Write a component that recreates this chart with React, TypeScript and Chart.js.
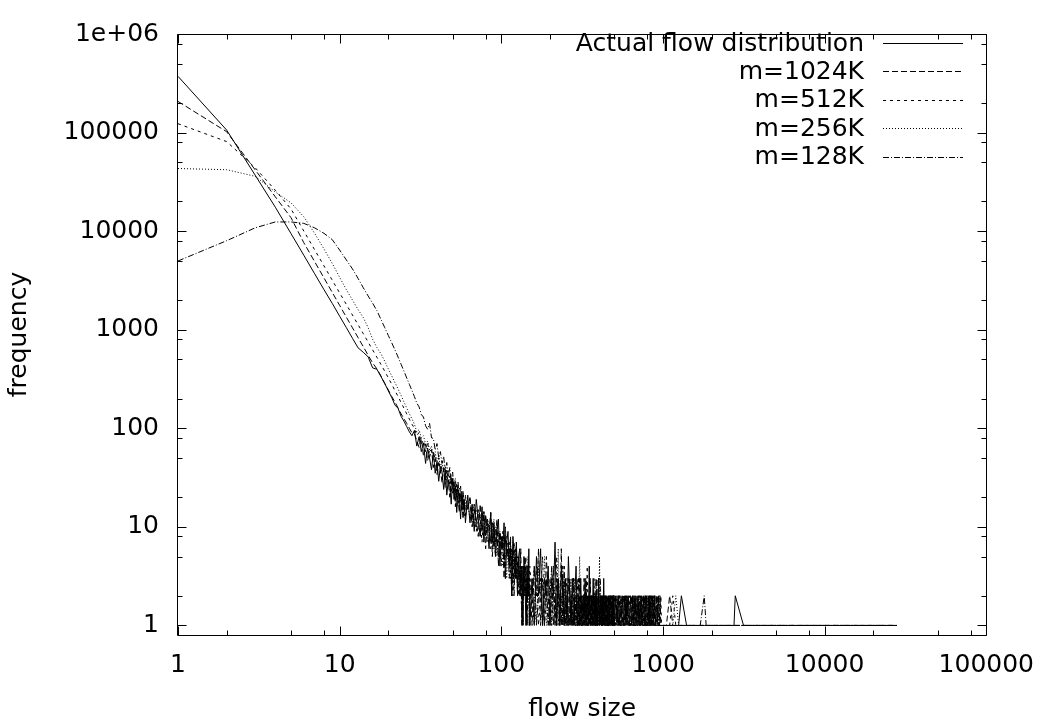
import React, { useEffect, useRef } from 'react';
import { Chart, registerables } from 'chart.js';

Chart.register(...registerables);

const FONT = '"DejaVu Sans", "Liberation Sans", Arial, sans-serif';

// ---------------- data ----------------
const seriesLabels = ['Actual flow distribution', 'm=1024K', 'm=512K', 'm=256K', 'm=128K'];

const headSizes = [1, 2, 3, 4, 5, 6, 7, 8, 9, 10, 11, 12, 13, 14, 15, 16, 17, 18, 19, 20, 21, 22, 23, 24, 25, 26, 27, 28];

const tailSizes = [
  29, 30, 31, 32, 33, 34, 35, 36, 37, 38, 39, 40, 41, 42, 43, 44, 45, 46, 47, 48, 49, 50, 51, 52, 53, 54, 55, 56, 57, 58, 59, 60,
  62, 64, 66, 68, 70, 72, 74, 76, 78, 80, 82, 84, 86, 88, 90, 92, 94, 96, 98, 100, 102, 104, 106, 108, 110, 112, 114, 116, 118, 120,
  122, 124, 126, 128, 130, 132, 134, 136, 138, 140, 142, 144, 146, 148, 150,
  155, 160, 165, 170, 175, 180, 185, 190, 195, 200, 205, 210, 215, 220, 225, 230, 235, 240, 245, 250,
  255, 260, 265, 270, 275, 280, 285, 290, 295, 300, 305, 310, 315, 320, 325, 330, 335, 340, 345, 350,
  355, 360, 365, 370, 375, 380, 385, 390, 395, 400, 405, 410, 415, 420, 425, 430, 435, 440, 445, 450,
  455, 460, 465, 470, 475, 480, 485, 490, 495, 500,
  510, 520, 530, 540, 550, 560, 570, 580, 590, 600, 610, 620, 630, 640, 650, 660, 670, 680, 690, 700,
  710, 720, 730, 740, 750, 760, 770, 780, 790, 800, 810, 820, 830, 840, 850, 860, 870, 880, 890, 900,
  910, 920, 930, 940, 950, 960, 970, 980, 990, 1000,
  1050, 1100, 1150, 1200, 1250, 1300, 1400, 1500, 1600, 1700, 1800, 1850, 1900, 2000, 2200, 2500, 2750, 2800, 3150,
  4000, 6000, 10000, 15000, 20000, 27900,
];

const actualHead = [372000, 106000, 37000, 17500, 9450, 5700, 3700, 2550, 1850, 1370, 1050, 820, 655, 590, 531, 410, 397, 335, 285, 240, 205, 172, 159, 132, 118, 104, 92, 84];
const actualTail = [
  95, 66, 82, 58, 71, 44, 63, 50, 38, 57, 35, 46, 29, 41, 36, 24, 38, 21, 30, 27, 17, 31, 19, 26, 14, 24, 20, 12, 23, 15, 19, 11,
  21, 11, 17, 9, 19, 12, 8, 16, 7, 13, 10, 6, 14, 7, 11, 5, 9, 12, 4, 8, 6, 11, 3, 7, 9, 4, 6, 2, 8, 5, 3, 7, 2, 5, 6, 2, 4, 1, 5, 3, 1, 4, 2, 6, 1,
  3, 1, 5, 2, 6, 1, 3, 2, 4, 1, 3, 2, 7, 1, 3, 1, 4, 2, 1, 3, 1, 5, 2, 1, 3, 1, 2, 4, 1, 2, 1, 3, 1, 2, 1, 3, 1, 2, 1, 4,
  1, 2, 1, 3, 1, 2, 1, 2, 1, 3, 1, 2, 1, 2, 1, 3, 1, 2, 1, 2, 1, 2, 1, 1, 2, 1, 2, 1, 2, 1,
  2, 1, 2, 1, 1, 2, 1, 2, 1, 2, 1, 1, 2, 1, 2, 1, 1, 2, 1, 2, 1, 1, 2, 1, 1, 2, 1, 1, 2, 1, 1, 2, 1, 1, 1, 2, 1, 1, 2, 1, 1, 1, 1, 2, 1, 1, 1, 1, 1, 1,
  1, 1, 1, 1, 1, 2, 1, 1, 1, 1, 1, 1, 1, 1, 1, 1, 1, 2, 1, 1, 1, 1, 1, 1, 1,
];

const m1024Head = [207000, 102000, 41900, 22300, 13700, 7640, 4910, 3350, 2390, 1765, 1340, 1046, 831, 673, 552, 460, 400, 340, 285, 245, 210, 185, 160, 140, 125, 112, 100, 90];
const m1024Tail = [
  88, 75, 64, 80, 52, 69, 47, 58, 61, 40, 49, 34, 45, 38, 28, 40, 25, 33, 29, 20, 31, 22, 26, 16, 24, 19, 14, 22, 17, 12, 18, 13,
  16, 19, 10, 15, 12, 8, 17, 9, 13, 6, 11, 9, 14, 5, 10, 7, 12, 4, 9, 6, 8, 3, 10, 5, 6, 4, 8, 2, 6, 5, 3, 7, 2, 4, 3, 6, 1, 4, 2, 5, 3, 1, 4, 2, 3,
  1, 4, 2, 6, 1, 3, 1, 5, 2, 1, 2, 4, 1, 3, 2, 1, 6, 1, 4, 1, 2, 1, 3, 1, 2, 3, 1, 2, 1, 3, 1, 2, 1, 1, 3, 1, 2, 1, 2, 1,
  3, 1, 2, 1, 2, 1, 1, 3, 1, 2, 1, 1, 2, 1, 2, 1, 2, 1, 1, 2, 1, 1, 2, 1, 1, 2, 1, 1, 1, 2,
  1, 2, 1, 2, 1, 1, 2, 1, 2, 1, 2, 1, 1, 2, 1, 1, 2, 1, 1, 1, 2, 1, 1, 2, 1, 1, 2, 1, 1, 1, 2, 1, 1, 2, 1, 1, 1, 2, 1, 1, 2, 1, 1, 1, 1, 2, 1, 1, 1, 1,
  1, 2, 1, 1, 1, 1, 1, 1, 1, 1, 1, 1, 1, 1, 1, 1, 1, 1, 1, 1, 1, 1, 1, 1, 1,
];

const m512Head = [123000, 81000, 44000, 26000, 16800, 10030, 6480, 4440, 3180, 2360, 1805, 1410, 1124, 912, 750, 624, 525, 445, 380, 325, 280, 240, 210, 182, 160, 140, 124, 110];
const m512Tail = [
  100, 84, 91, 70, 76, 58, 73, 51, 60, 47, 55, 39, 50, 35, 42, 37, 29, 38, 26, 33, 22, 30, 25, 18, 27, 16, 23, 20, 14, 21, 13, 17,
  15, 20, 11, 16, 9, 14, 12, 7, 15, 8, 12, 10, 6, 11, 9, 5, 10, 7, 8, 4, 9, 6, 3, 8, 5, 7, 3, 6, 2, 7, 4, 3, 5, 2, 4, 3, 1, 4, 3, 2, 5, 1, 3, 2, 4,
  2, 1, 4, 1, 2, 5, 1, 2, 1, 3, 1, 2, 1, 5, 1, 2, 1, 3, 1, 2, 3, 1, 1, 2, 1, 2, 1, 1, 3, 1, 2, 1, 2, 1, 1, 2, 1, 4, 1, 2,
  1, 1, 2, 1, 3, 1, 2, 1, 1, 2, 1, 3, 1, 1, 2, 1, 1, 2, 1, 1, 2, 1, 1, 2, 1, 1, 1, 2, 1, 1,
  2, 1, 1, 2, 1, 2, 1, 1, 2, 1, 1, 2, 1, 1, 1, 2, 1, 1, 2, 1, 1, 2, 1, 1, 2, 1, 1, 2, 1, 1, 1, 1, 2, 1, 1, 1, 2, 1, 1, 1, 1, 2, 1, 1, 1, 1, 2, 1, 1, 1,
  1, 1, 2, 1, 1, 1, 1, 1, 1, 1, 1, 1, 1, 1, 1, 1, 1, 1, 1, 1, 1, 1, 1, 1, 1,
];

const m256Head = [43200, 42000, 36000, 25000, 19400, 14000, 9500, 6600, 4700, 3400, 2550, 2000, 1600, 1330, 1050, 800, 660, 570, 480, 400, 340, 290, 250, 215, 185, 160, 140, 125];
const m256Tail = [
  110, 92, 97, 80, 84, 69, 74, 60, 66, 52, 58, 45, 53, 40, 47, 35, 42, 31, 38, 27, 34, 24, 30, 21, 27, 19, 25, 22, 16, 21, 14, 18,
  17, 12, 16, 10, 15, 13, 8, 14, 9, 12, 7, 11, 9, 6, 12, 7, 5, 9, 6, 8, 4, 8, 5, 3, 7, 4, 6, 2, 7, 3, 4, 6, 2, 5, 2, 4, 3, 1, 4, 2, 3, 2, 5, 1, 2,
  3, 2, 1, 4, 2, 1, 5, 1, 3, 2, 1, 3, 2, 1, 6, 1, 2, 1, 3, 1, 2, 1, 2, 3, 1, 1, 3, 1, 2, 1, 5, 1, 1, 1, 2, 1, 1, 2, 1, 2,
  1, 2, 1, 2, 1, 2, 1, 1, 2, 1, 5, 1, 2, 1, 1, 2, 1, 1, 2, 1, 1, 1, 2, 1, 1, 1, 2, 1, 2, 1,
  1, 2, 1, 1, 2, 1, 1, 2, 1, 2, 1, 1, 2, 1, 1, 2, 1, 1, 1, 2, 1, 1, 2, 1, 1, 1, 2, 1, 1, 2, 1, 1, 1, 2, 1, 1, 2, 1, 1, 1, 2, 1, 1, 1, 2, 1, 1, 1, 1, 1,
  1, 1, 1, 2, 1, 1, 1, 1, 1, 1, 1, 1, 1, 1, 1, 1, 1, 1, 1, 1, 1, 1, 1, 1, 1,
];

const m128Head = [4980, 8000, 10800, 12400, 12400, 12000, 10800, 9500, 8200, 6430, 5105, 4140, 3316, 2670, 2200, 1857, 1560, 1274, 1051, 875, 736, 623, 527, 445, 379, 324, 279, 242];
const m128Tail = [
  210, 180, 165, 138, 130, 106, 98, 112, 80, 79, 60, 70, 50, 58, 44, 52, 36, 45, 32, 40, 27, 36, 24, 31, 20, 29, 18, 26, 15, 23, 14, 21,
  15, 20, 12, 17, 10, 15, 13, 9, 14, 8, 12, 10, 7, 11, 6, 10, 8, 5, 9, 6, 7, 4, 8, 5, 6, 3, 7, 4, 5, 2, 6, 3, 4, 5, 2, 4, 3, 1, 4, 2, 3, 1, 3, 2, 1,
  2, 4, 1, 2, 3, 1, 2, 3, 1, 2, 4, 1, 2, 1, 3, 2, 1, 4, 1, 2, 1, 3, 1, 2, 1, 3, 1, 2, 1, 1, 3, 1, 2, 1, 2, 1, 3, 1, 1, 2,
  1, 2, 1, 1, 2, 1, 3, 1, 1, 3, 1, 1, 2, 1, 1, 2, 1, 1, 2, 1, 1, 1, 2, 1, 2, 1, 1, 1, 2, 1,
  1, 1, 2, 1, 2, 1, 1, 1, 2, 1, 2, 1, 1, 1, 2, 1, 2, 1, 1, 1, 2, 1, 1, 2, 1, 1, 1, 2, 1, 1, 2, 1, 1, 1, 2, 1, 1, 1, 2, 1, 1, 1, 2, 1, 1, 1, 1, 1, 1, 1,
  1, 1, 1, 1, 1, 1, 1, 1, 1, 1, 2, 1, 1, 1, 1, 1, 1, 1, 1, 1, 1, 1, 1, 1, 1,
];

const xTickValues = [1, 10, 100, 1000, 10000, 100000];
const xTickLabels = ['1', '10', '100', '1000', '10000', '100000'];
const yTickValues = [1, 10, 100, 1000, 10000, 100000, 1000000];
const yTickLabels = ['1', '10', '100', '1000', '10000', '100000', '1e+06'];
const minorMultipliers = [2, 5, 8];

// ---------------- styling ----------------
const dashes: number[][] = [[], [6, 3], [3, 4], [1, 2], [6, 2, 1, 2]];
const MAJOR_LEN = 9;
const MINOR_LEN = 5;
const LEGEND_TEXT_RIGHT = 864;
const LEGEND_SAMPLE_X0 = 883;
const LEGEND_SAMPLE_X1 = 963;
const LEGEND_Y0 = 44;
const LEGEND_DY = 28.4;

function toPoints(head: number[], tail: number[]) {
  const sizes = headSizes.concat(tailSizes);
  const vals = head.concat(tail);
  const n = Math.min(sizes.length, vals.length);
  const pts: { x: number; y: number }[] = [];
  for (let i = 0; i < n; i++) pts.push({ x: sizes[i], y: vals[i] });
  return pts;
}

const backgroundPlugin = {
  id: 'whiteBg',
  beforeDraw(chart: any) {
    const { ctx, width, height } = chart;
    ctx.save();
    ctx.fillStyle = '#ffffff';
    ctx.fillRect(0, 0, width, height);
    ctx.restore();
  },
};

const framePlugin = {
  id: 'gnuFrame',
  afterDatasetsDraw(chart: any) {
    const { ctx, chartArea } = chart;
    const xs = chart.scales.x;
    const ys = chart.scales.y;
    const L = Math.round(chartArea.left) - 0.5;
    const R = Math.round(chartArea.right) + 0.5;
    const T = Math.round(chartArea.top) + 0.5;
    const B = Math.round(chartArea.bottom) + 0.5;
    ctx.save();
    ctx.strokeStyle = '#000';
    ctx.lineWidth = 1;
    ctx.setLineDash([]);
    ctx.beginPath();
    ctx.moveTo(L, T);
    ctx.lineTo(R, T);
    ctx.lineTo(R, B);
    ctx.lineTo(L, B);
    ctx.closePath();

    const xTick = (v: number, len: number) => {
      const p = Math.round(xs.getPixelForValue(v)) + 0.5;
      ctx.moveTo(p, B);
      ctx.lineTo(p, B - len);
      ctx.moveTo(p, T);
      ctx.lineTo(p, T + len);
    };
    const yTick = (v: number, len: number) => {
      const p = Math.round(ys.getPixelForValue(v)) + 0.5;
      ctx.moveTo(L, p);
      ctx.lineTo(L + len, p);
      ctx.moveTo(R, p);
      ctx.lineTo(R - len, p);
    };
    xTickValues.forEach((d, i) => {
      xTick(d, MAJOR_LEN);
      if (i < xTickValues.length - 1) minorMultipliers.forEach((m) => xTick(d * m, MINOR_LEN));
    });
    yTickValues.forEach((d, i) => {
      yTick(d, MAJOR_LEN);
      if (i < yTickValues.length - 1) minorMultipliers.forEach((m) => yTick(d * m, MINOR_LEN));
    });
    ctx.stroke();
    ctx.restore();
  },
};

const legendPlugin = {
  id: 'gnuKey',
  afterDraw(chart: any) {
    const { ctx } = chart;
    ctx.save();
    ctx.font = `25px ${FONT}`;
    ctx.fillStyle = '#000';
    ctx.textAlign = 'right';
    ctx.textBaseline = 'middle';
    chart.data.datasets.forEach((ds: any, i: number) => {
      const y = LEGEND_Y0 + i * LEGEND_DY;
      ctx.fillText(ds.label, LEGEND_TEXT_RIGHT, y);
      const ly = Math.round(y) - 0.5;
      ctx.beginPath();
      ctx.strokeStyle = '#000';
      ctx.lineWidth = 1;
      ctx.setLineDash(ds.borderDash || []);
      ctx.moveTo(LEGEND_SAMPLE_X0, ly);
      ctx.lineTo(LEGEND_SAMPLE_X1, ly);
      ctx.stroke();
    });
    ctx.restore();
  },
};

export default function App() {
  const canvasRef = useRef<HTMLCanvasElement | null>(null);

  useEffect(() => {
    const canvas = canvasRef.current;
    if (!canvas) return;
    const heads = [actualHead, m1024Head, m512Head, m256Head, m128Head];
    const tails = [actualTail, m1024Tail, m512Tail, m256Tail, m128Tail];
    const datasets = seriesLabels.map((label, i) => ({
      label,
      data: toPoints(heads[i], tails[i]),
      borderColor: '#000000',
      backgroundColor: '#000000',
      borderWidth: 1,
      borderDash: dashes[i],
      borderJoinStyle: 'round' as const,
      pointRadius: 0,
      pointHoverRadius: 0,
      fill: false,
      tension: 0,
    }));

    const chart = new Chart(canvas, {
      type: 'line',
      data: { datasets },
      options: {
        animation: false,
        responsive: false,
        maintainAspectRatio: false,
        devicePixelRatio: 1,
        events: [],
        layout: { padding: { left: 0, right: 51, top: 20, bottom: 0 } },
        plugins: {
          legend: { display: false },
          tooltip: { enabled: false },
          title: { display: false },
        },
        scales: {
          x: {
            type: 'logarithmic',
            position: 'bottom',
            min: 1,
            max: 100000,
            grid: { display: false, drawTicks: false },
            border: { display: false },
            afterBuildTicks: (scale: any) => {
              scale.ticks = xTickValues.map((v) => ({ value: v }));
            },
            afterFit: (scale: any) => {
              scale.height = 88;
            },
            ticks: {
              autoSkip: false,
              maxRotation: 0,
              minRotation: 0,
              padding: 15,
              color: '#000',
              font: { family: FONT, size: 25, lineHeight: 1.2 },
              callback: (_v: any, i: number) => xTickLabels[i],
            },
            title: {
              display: true,
              text: 'flow size',
              color: '#000',
              font: { family: FONT, size: 25, lineHeight: 1.1 },
              padding: { top: 0, bottom: 0 },
            },
          },
          y: {
            type: 'logarithmic',
            position: 'left',
            min: 0.8,
            max: 1000000,
            grid: { display: false, drawTicks: false },
            border: { display: false },
            afterBuildTicks: (scale: any) => {
              scale.ticks = yTickValues.map((v) => ({ value: v }));
            },
            afterFit: (scale: any) => {
              scale.width = 178;
            },
            ticks: {
              autoSkip: false,
              padding: 19,
              color: '#000',
              font: { family: FONT, size: 25, lineHeight: 1.2 },
              callback: (_v: any, i: number) => yTickLabels[i],
            },
            title: {
              display: true,
              text: 'frequency',
              color: '#000',
              font: { family: FONT, size: 25, lineHeight: 1.1 },
              padding: { top: 6, bottom: 0 },
            },
          },
        },
      } as any,
      plugins: [backgroundPlugin, framePlugin, legendPlugin],
    });

    return () => {
      chart.destroy();
    };
  }, []);

  return (
    <div style={{ position: 'absolute', left: 0, top: 0, width: 1049, height: 723, background: '#fff' }}>
      <canvas ref={canvasRef} width={1049} height={723} style={{ display: 'block' }} />
    </div>
  );
}
